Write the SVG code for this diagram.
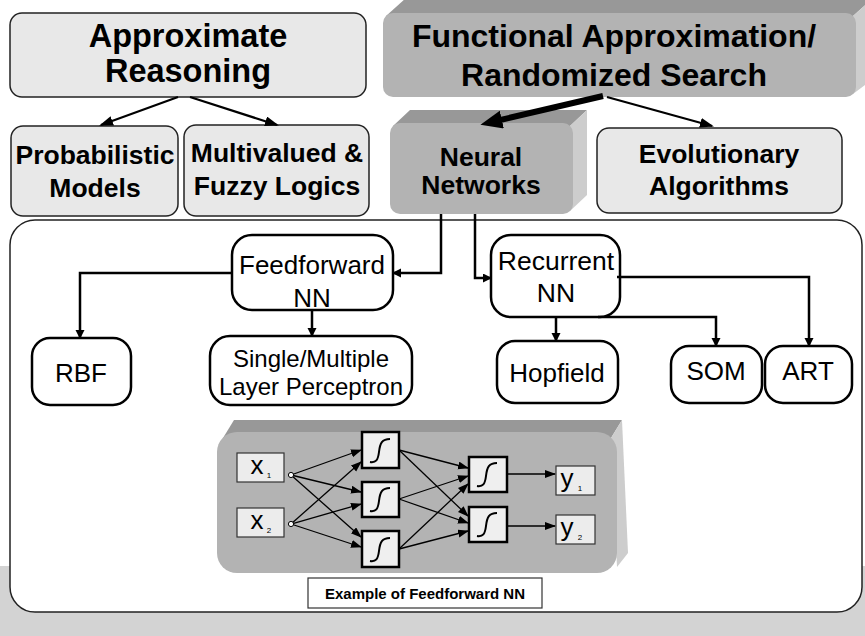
<svg xmlns="http://www.w3.org/2000/svg" xmlns:xlink="http://www.w3.org/1999/xlink" width="865" height="636" viewBox="0 0 865 636">
<defs>
<style>
.t{font-family:"Liberation Sans",Arial,sans-serif;fill:#000;text-anchor:middle}
.b{font-weight:bold}
.lite{fill:#e8e8e8;stroke:#222;stroke-width:1.5}
.node{fill:#fff;stroke:#000;stroke-width:2.5}
.con{fill:none;stroke:#000;stroke-width:2.5}
.top{fill:none;stroke:#000;stroke-width:2.2}
.nn{fill:none;stroke:#000;stroke-width:1.3}
.io{fill:#ececec;stroke:#333;stroke-width:1.2}
.hid{fill:#efefef;stroke:#000;stroke-width:2.5}
.sig{fill:none;stroke:#000;stroke-width:2}
.front{fill:#b3b3b3}
.bevel{fill:#989898}
.side{fill:#cdcdcd}
</style>
<marker id="aTop" markerUnits="userSpaceOnUse" markerWidth="14" markerHeight="12" refX="12" refY="5" orient="auto"><path d="M0,0 L14,5 L0,10 z" fill="#000"/></marker>
<marker id="aThick" markerUnits="userSpaceOnUse" markerWidth="24" markerHeight="20" refX="6" refY="9" orient="auto"><path d="M0,0 L22,9 L0,18 z" fill="#000"/></marker>
<marker id="aIn" markerUnits="userSpaceOnUse" markerWidth="10" markerHeight="10" refX="8" refY="4.5" orient="auto"><path d="M0,0 L9,4.5 L0,9 z" fill="#000"/></marker>
<marker id="aNN" markerUnits="userSpaceOnUse" markerWidth="12" markerHeight="10" refX="10" refY="4" orient="auto"><path d="M0,0 L11,4 L0,8 z" fill="#000"/></marker>
<g id="sigm"><path class="sig" d="M8,30 C14,31 16,28 17,20 C18,11 20,7 28,7"/></g>
</defs>

<rect x="0" y="0" width="865" height="636" fill="#fff"/>
<rect x="0" y="566" width="865" height="70" fill="#d3d3d3"/>

<g id="frame">
<rect x="10" y="220" width="852" height="392" rx="25" fill="#fff" stroke="#222" stroke-width="1.5"/>
</g>

<g id="approx-reasoning">
<rect class="lite" x="10" y="13" width="356" height="84" rx="12"/>
<text class="t b" x="188" y="47" font-size="32.5">Approximate</text>
<text class="t b" x="188" y="82" font-size="32.5">Reasoning</text>
</g>

<g id="func-approx">
<polygon class="bevel" points="386,16 406,-2 873,-2 853,16"/>
<polygon class="side" points="853,16 873,-2 873,79 853,94"/>
<rect class="front" x="383" y="13" width="473" height="84" rx="10"/>
<text class="t b" x="614" y="47" font-size="32">Functional Approximation/</text>
<text class="t b" x="614" y="86" font-size="32">Randomized Search</text>
</g>

<g id="probabilistic">
<rect class="lite" x="11" y="126" width="167" height="90" rx="12"/>
<text class="t b" x="95" y="164" font-size="26.5">Probabilistic</text>
<text class="t b" x="95" y="197" font-size="26.5">Models</text>
</g>

<g id="multivalued">
<rect class="lite" x="184" y="125" width="185" height="91" rx="12"/>
<text class="t b" x="277" y="162" font-size="26.5">Multivalued &amp;</text>
<text class="t b" x="277" y="195" font-size="26.5">Fuzzy Logics</text>
</g>

<g id="neural-networks">
<polygon class="bevel" points="393,126 410,110 587,110 570,126"/>
<polygon class="side" points="570,126 587,110 587,195 570,211"/>
<rect class="front" x="390" y="123" width="183" height="91" rx="10"/>
<text class="t b" x="481" y="166" font-size="26.5">Neural</text>
<text class="t b" x="481" y="194" font-size="26.5">Networks</text>
</g>

<g id="evolutionary">
<rect class="lite" x="597" y="128" width="245" height="85" rx="12"/>
<text class="t b" x="719" y="163" font-size="26.5">Evolutionary</text>
<text class="t b" x="719" y="195" font-size="26.5">Algorithms</text>
</g>

<g id="feedforward">
<rect class="node" x="232" y="235" width="161" height="75" rx="20"/>
<text class="t" x="312" y="274" font-size="26">Feedforward</text>
<text class="t" x="312" y="307" font-size="26">NN</text>
</g>

<g id="recurrent">
<rect class="node" x="491" y="235" width="129" height="82" rx="20"/>
<text class="t" x="556" y="270" font-size="26.5">Recurrent</text>
<text class="t" x="556" y="302" font-size="26.5">NN</text>
</g>

<g id="rbf">
<rect class="node" x="32" y="338" width="99" height="67" rx="18"/>
<text class="t" x="81" y="382" font-size="26">RBF</text>
</g>

<g id="perceptron">
<rect class="node" x="210" y="336" width="202" height="69" rx="20"/>
<text class="t" x="311" y="367" font-size="24">Single/Multiple</text>
<text class="t" x="311" y="395" font-size="24">Layer Perceptron</text>
</g>

<g id="hopfield">
<rect class="node" x="497" y="341" width="121" height="62" rx="18"/>
<text class="t" x="557" y="382" font-size="26">Hopfield</text>
</g>

<g id="som">
<rect class="node" x="671" y="346" width="91" height="57" rx="18"/>
<text class="t" x="716" y="380" font-size="26">SOM</text>
</g>

<g id="art">
<rect class="node" x="765" y="346" width="87" height="57" rx="18"/>
<text class="t" x="808" y="380" font-size="26">ART</text>
</g>

<g id="nn-example">
<polygon class="bevel" points="223,438 234,420 622,420 611,438"/>
<polygon class="side" points="611,438 622,420 628,553 617,567"/>
<rect class="front" x="217" y="432" width="400" height="141" rx="20"/>
<g id="x1"><rect class="io" x="237" y="453" width="47" height="29"/>
<text class="t" x="257" y="474" font-size="26">x</text><text class="t" x="269" y="478" font-size="8">1</text></g>
<g id="x2"><rect class="io" x="237" y="508" width="47" height="29"/>
<text class="t" x="257" y="529" font-size="26">x</text><text class="t" x="269" y="533" font-size="8">2</text></g>
<g id="h1"><rect class="hid" x="362" y="432" width="37" height="36"/><use xlink:href="#sigm" x="362" y="432"/></g>
<g id="h2"><rect class="hid" x="362" y="482" width="37" height="35"/><use xlink:href="#sigm" x="362" y="481"/></g>
<g id="h3"><rect class="hid" x="362" y="531" width="37" height="36"/><use xlink:href="#sigm" x="362" y="531"/></g>
<g id="o1"><rect class="hid" x="469" y="457" width="38" height="35"/><use xlink:href="#sigm" x="469" y="456"/></g>
<g id="o2"><rect class="hid" x="469" y="507" width="38" height="35"/><use xlink:href="#sigm" x="469" y="506"/></g>
<g id="y1"><rect class="io" x="556" y="466" width="39" height="29"/>
<text class="t" x="567" y="487" font-size="26">y</text><text class="t" x="580" y="491" font-size="8">1</text></g>
<g id="y2"><rect class="io" x="556" y="515" width="39" height="29"/>
<text class="t" x="567" y="536" font-size="26">y</text><text class="t" x="580" y="540" font-size="8">2</text></g>
<g id="nn-links">
<path class="nn" marker-end="url(#aNN)" d="M291,475 L361,450"/>
<path class="nn" marker-end="url(#aNN)" d="M291,475 L361,492"/>
<path class="nn" marker-end="url(#aNN)" d="M291,475 L361,537"/>
<path class="nn" marker-end="url(#aNN)" d="M291,524 L361,462"/>
<path class="nn" marker-end="url(#aNN)" d="M291,524 L361,504"/>
<path class="nn" marker-end="url(#aNN)" d="M291,524 L361,547"/>
<path class="nn" marker-end="url(#aNN)" d="M399,450 L468,468"/>
<path class="nn" marker-end="url(#aNN)" d="M399,450 L468,516"/>
<path class="nn" marker-end="url(#aNN)" d="M399,499 L468,476"/>
<path class="nn" marker-end="url(#aNN)" d="M399,499 L468,523"/>
<path class="nn" marker-end="url(#aNN)" d="M399,549 L468,484"/>
<path class="nn" marker-end="url(#aNN)" d="M399,549 L468,531"/>
<path class="nn" marker-end="url(#aNN)" d="M507,474 L555,474"/>
<path class="nn" marker-end="url(#aNN)" d="M507,526 L555,526"/>
<circle cx="291" cy="475" r="2.6" fill="#fff" stroke="#000" stroke-width="1"/>
<circle cx="291" cy="524" r="2.6" fill="#fff" stroke="#000" stroke-width="1"/>
</g>
</g>

<g id="caption">
<rect x="308" y="578" width="234" height="30" fill="#fff" stroke="#333" stroke-width="1.2"/>
<text class="t b" x="425" y="599" font-size="15">Example of Feedforward NN</text>
</g>

<g id="connectors">
<path class="top" marker-end="url(#aTop)" d="M178,97 L101,125"/>
<path class="top" marker-end="url(#aTop)" d="M190,97 L277,125"/>
<path class="top" marker-end="url(#aTop)" d="M607,97 L712,126"/>
<path fill="none" stroke="#000" stroke-width="6" marker-end="url(#aThick)" d="M603,96 L496,121"/>
<path class="con" marker-end="url(#aIn)" d="M441,214 V273 H393"/>
<path class="con" marker-end="url(#aIn)" d="M475,214 V278 H491"/>
<path class="con" marker-end="url(#aIn)" d="M232,273 H80 V338"/>
<path class="con" marker-end="url(#aIn)" d="M312,310 V336"/>
<path class="con" marker-end="url(#aIn)" d="M617,277 H809 V346"/>
<path class="con" marker-end="url(#aIn)" d="M598,317 H716 V346"/>
<path class="con" marker-end="url(#aIn)" d="M556,317 V341"/>
</g>
</svg>
